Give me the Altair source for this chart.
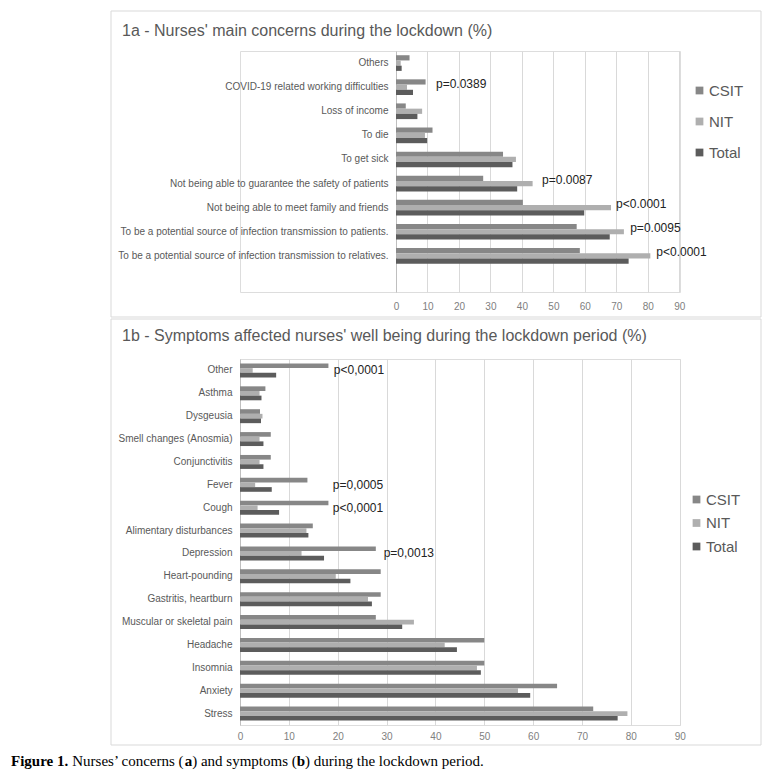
import altair as alt
import pandas as pd

# ---------------- data ----------------
series = ["CSIT", "NIT", "Total"]
series_colors = ["#878787", "#afafaf", "#5c5c5c"]
ticks = [0, 10, 20, 30, 40, 50, 60, 70, 80, 90]

concerns = [
    "Others",
    "COVID-19 related working difficulties",
    "Loss of income",
    "To die\u00a0",
    "To get sick\u00a0",
    "Not being able to guarantee the safety of patients",
    "Not being able to meet family and friends",
    "To be a potential source of infection transmission to patients.",
    "To be a potential source of infection transmission to relatives.",
]
concerns_csit = [4.3, 9.4, 3.1, 11.6, 34.0, 27.7, 40.3, 57.4, 58.4]
concerns_nit = [1.5, 3.5, 8.3, 9.2, 38.1, 43.4, 68.3, 72.4, 80.8]
concerns_total = [1.8, 5.4, 6.8, 9.9, 37.0, 38.5, 59.8, 67.9, 73.9]

concerns_p_cats = [concerns[1], concerns[5], concerns[6], concerns[7], concerns[8]]
concerns_p_labels = ["p=0.0389", "p=0.0087", "p<0.0001", "p=0.0095", "p<0.0001"]
concerns_p_at = [12.7, 46.4, 69.9, 74.4, 82.7]

symptoms = [
    "Other",
    "Asthma\u00a0\u00a0",
    "Dysgeusia\u00a0",
    "Smell changes (Anosmia)",
    "Conjunctivitis",
    "Fever",
    "Cough",
    "Alimentary disturbances",
    "Depression",
    "Heart-pounding",
    "Gastritis, heartburn",
    "Muscular or skeletal pain",
    "Headache",
    "Insomnia",
    "Anxiety",
    "Stress",
]
symptoms_csit = [18.1, 5.2, 4.1, 6.3, 6.3, 13.8, 18.1, 14.9, 27.8, 28.8, 28.8, 27.8, 50.0, 50.0, 64.9, 72.3]
symptoms_nit = [2.6, 4.0, 4.6, 4.0, 4.0, 3.1, 3.6, 13.6, 12.6, 19.6, 26.2, 35.6, 41.9, 48.5, 56.9, 79.3]
symptoms_total = [7.4, 4.4, 4.3, 4.8, 4.8, 6.5, 8.0, 14.0, 17.2, 22.6, 27.0, 33.2, 44.4, 49.3, 59.4, 77.3]

symptoms_p_cats = ["Other", "Fever", "Cough", "Depression"]
symptoms_p_labels = ["p<0,0001", "p=0,0005", "p<0,0001", "p=0,0013"]
symptoms_p_at = [19.2, 19.0, 19.0, 29.4]

title_a = "1a - Nurses' main concerns during the lockdown (%)"
title_b = "1b - Symptoms affected nurses' well being during the lockdown period (%)"

caption_parts = ["Figure 1.", "Nurses\u2019 concerns (", "a", ") and symptoms (", "b", ") during the lockdown period."]
caption_bold = [True, False, True, False, True, False]
caption_offsets = [0, 61.25, 173.7, 181.2, 285.8, 294.1]


def long_df(cats, a, b, c):
    rows = []
    for i, cat in enumerate(cats):
        for s, v in zip(series, (a[i], b[i], c[i])):
            rows.append({"category": cat, "series": s, "value": v})
    return pd.DataFrame(rows)


df_a = long_df(concerns, concerns_csit, concerns_nit, concerns_total)
df_b = long_df(symptoms, symptoms_csit, symptoms_nit, symptoms_total)
pa = pd.DataFrame({"category": concerns_p_cats, "label": concerns_p_labels, "value": concerns_p_at})
pb = pd.DataFrame({"category": symptoms_p_cats, "label": symptoms_p_labels, "value": symptoms_p_at})

one = alt.Data(values=[{"k": 0}])
FONT = "Liberation Sans"
LEFT = -229  # common left bound (caption start)
W = 440


def frame(bottom):
    return alt.Chart(one).mark_rect(fillOpacity=0, stroke="#d9d9d9", strokeWidth=1).encode(
        x=alt.value(-129), x2=alt.value(521), y=alt.value(-40), y2=alt.value(bottom)
    )


def left_pad():
    return alt.Chart(one).mark_rect(opacity=0).encode(
        x=alt.value(LEFT), x2=alt.value(LEFT + 1), y=alt.value(0), y2=alt.value(1)
    )


def title_mark(text, y):
    return alt.Chart(one).mark_text(
        text=text, align="left", baseline="middle", fontSize=16, color="#595959", font=FONT
    ).encode(x=alt.value(-118), y=alt.value(y))


def panel(df, pdf, cats, x_range, height, pad_inner, pad_outer, align, y_offset_axis,
          x_label_pad, legend_x, legend_y, legend_row_pad, text_dy, ttl, ttl_y, frame_bottom, extra=None):
    y_enc = dict(
        sort=cats,
        title=None,
        scale=alt.Scale(domain=cats, paddingInner=pad_inner, paddingOuter=pad_outer, align=align),
    )
    bars = alt.Chart(df).mark_bar().encode(
        y=alt.Y(
            "category:N",
            axis=alt.Axis(
                domain=True, domainColor="#bfbfbf", domainWidth=1, ticks=False, tickSize=0,
                labelPadding=8, labelLimit=400, labelFontSize=10, labelColor="#595959",
                labelFont=FONT, grid=False, offset=y_offset_axis,
            ),
            **y_enc,
        ),
        x=alt.X(
            "value:Q",
            title=None,
            scale=alt.Scale(domain=[0, 90], range=x_range, nice=False, zero=True),
            axis=alt.Axis(
                values=ticks, domain=False, ticks=False, grid=True, gridColor="#d9d9d9",
                gridWidth=1, labelPadding=x_label_pad, labelColor="#808080", labelFontSize=10,
                labelFont=FONT, labelFlush=False,
            ),
        ),
        yOffset=alt.YOffset("series:N", sort=series,
                            scale=alt.Scale(domain=series, paddingInner=0, paddingOuter=0)),
        color=alt.Color(
            "series:N",
            sort=series,
            scale=alt.Scale(domain=series, range=series_colors),
            legend=alt.Legend(
                title=None, orient="none", legendX=legend_x, legendY=legend_y,
                symbolType="square", symbolSize=60, symbolStrokeWidth=0,
                labelFontSize=15, labelColor="#595959", labelFont=FONT,
                rowPadding=legend_row_pad, labelOffset=2, direction="vertical",
            ),
        ),
    )
    ptext = alt.Chart(pdf).mark_text(
        align="left", baseline="middle", dy=text_dy, fontSize=12, color="#222222", font=FONT
    ).encode(
        y=alt.Y("category:N", **y_enc),
        x=alt.X("value:Q", title=None),
        text="label:N",
    )
    layers = [frame(frame_bottom), left_pad(), title_mark(ttl, ttl_y), bars, ptext]
    if extra:
        layers += extra
    return alt.layer(*layers).properties(width=W, height=height)


caption_layers = []
for txt, bold, off in zip(caption_parts, caption_bold, caption_offsets):
    caption_layers.append(
        alt.Chart(one).mark_text(
            text=txt, align="left", baseline="middle", fontSize=15,
            font="Liberation Serif", fontWeight="bold" if bold else "normal", color="#000000",
        ).encode(x=alt.value(LEFT + off), y=alt.value(402))
    )

panel_a = panel(df_a, pa, concerns, [156, 439.3], 241, 0.35, 0.675, 0.13, -156,
                9, 452, 32, 15, -3.5, title_a, -20, 266)
panel_b = panel(df_b, pb, symptoms, [0, 439.7], 366, 0.39, 0.195, 0.5, 0,
                6, 449, 133, 7.5, 0, title_b, -23, 386, extra=caption_layers)

chart = (
    alt.vconcat(panel_a, panel_b, spacing=0)
    .resolve_scale(color="independent", x="independent", y="independent", yOffset="independent")
    .resolve_legend(color="independent")
    .properties(padding={"left": 2, "top": 2, "right": 2, "bottom": 2}, background="white")
    .configure_view(stroke=None)
    .configure(font=FONT)
)

chart.save("out.html", embed_options={"renderer": "svg", "actions": False})
